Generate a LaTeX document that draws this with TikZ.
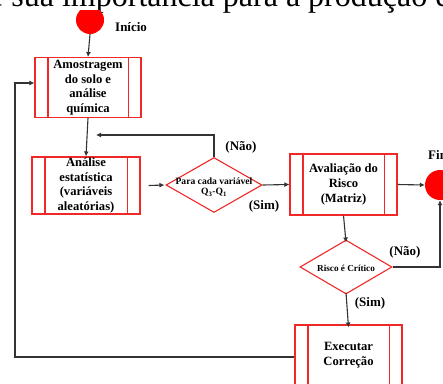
\documentclass[tikz,border=0pt]{standalone}
\usepackage{fontspec}
\setmainfont{Liberation Serif}
\usetikzlibrary{arrows.meta,shapes.geometric,calc}
\definecolor{boxred}{HTML}{F02828}
\definecolor{linegray}{HTML}{333333}
\begin{document}
\begin{tikzpicture}[x=1pt,y=-1pt,
  proc/.style={draw=boxred, line width=1.1pt, fill=white, minimum width=107pt, minimum height=60pt,
    align=center, inner sep=0pt, font=\bfseries\fontsize{12.6}{14.6}\selectfont},
  dec/.style={diamond, draw=boxred, line width=1.1pt, fill=white, inner sep=0pt},
  dectext/.style={align=center, inner sep=0pt, font=\bfseries\fontsize{9.6}{10}\selectfont},
  term/.style={circle, fill=red, inner sep=0pt, minimum size=28pt},
  conn/.style={draw=linegray, line width=1.1pt, -{Latex[length=5pt,width=5pt]}},
  lbl/.style={inner sep=0pt, font=\bfseries\fontsize{13}{14}\selectfont}
]
\useasboundingbox (0,0) rectangle (443,383);
\clip (0,0) rectangle (443,383);

% clipped heading text at the top
\node[anchor=base west, inner sep=0pt, font=\fontsize{32}{32}\selectfont] (head) at (-11,6) {e sua importância para a produção e};

% start circle (cut at the top)
\begin{scope}
  \clip (0,10) rectangle (443,383);
  \node[term] (start) at (90,20) {};
\end{scope}
\node[lbl, anchor=west] (startlbl) at (115,27) {Início};

% process boxes
\node[proc, minimum width=106pt, minimum height=60pt] (b1) at (88,87.5) {Amostragem\\do solo e\\análise\\química};
\node[proc, minimum width=108pt, minimum height=57pt] (b2) at (86,185.5) {Análise\\estatística\\(variáveis\\aleatórias)};
\node[proc, minimum width=107pt, minimum height=61pt] (b3) at (343.5,184.5) {Avaliação do\\Risco\\(Matriz)};
\node[proc, minimum width=107pt, minimum height=60pt] (b4) at (348.5,355) {Executar\\Correção};
\foreach \n in {b1,b2,b3,b4}{
  \draw[boxred, line width=1.1pt] ([xshift=13.5pt]\n.north west) -- ([xshift=13.5pt]\n.south west);
  \draw[boxred, line width=1.1pt] ([xshift=-13.5pt]\n.north east) -- ([xshift=-13.5pt]\n.south east);
}

% decisions
\node[dec, minimum width=96pt, minimum height=55pt] (d1) at (214,185) {};
\node[dectext] (d1t) at (214,187) {Para cada variável\\Q\textsubscript{3}-Q\textsubscript{1}};
\node[dec, minimum width=92pt, minimum height=54pt] (d2) at (346,267) {};
\node[dectext, font=\bfseries\fontsize{9.2}{10}\selectfont] (d2t) at (346,268) {Risco é Crítico};

% end circle
\node[term, minimum size=30pt] (fim) at (440,185) {};
\node[lbl, anchor=west] (fimlbl) at (428,155) {Fim};

% connectors
\draw[conn] (start.south) -- (b1.north);
\draw[conn] (b1.south) -- (b2.north);
\draw[conn] ([xshift=8pt]b2.east) -- ([xshift=-1pt]d1.west);
\coordinate (fb1) at (214,135);
\coordinate (fb2) at (96,135);
\draw[conn] (d1.north) -- (fb1) -- (fb2);
\draw[conn] (d1.east) -- (b3.west);
\draw[conn] (b3.east) -- (fim.west);
\draw[conn] (b3.south) -- ([yshift=-3pt]d2.north);
\draw[conn] (d2.east) -- (d2.east -| fim) -- (fim.south);
\draw[conn] ([yshift=2pt]d2.south) -- ([yshift=-3pt]b4.north);
\coordinate (lp1) at (15,357);
\coordinate (lp2) at (15,83);
\draw[conn] (b4.west |- lp1) -- (lp1) -- (lp2) -- (b1.west |- lp2);

% branch labels
\node[lbl] (nao1) at (241,147) {(Não)};
\node[lbl] (sim1) at (264,206) {(Sim)};
\node[lbl] (nao2) at (405,252) {(Não)};
\node[lbl] (sim2) at (370,303) {(Sim)};
\end{tikzpicture}
\end{document}
